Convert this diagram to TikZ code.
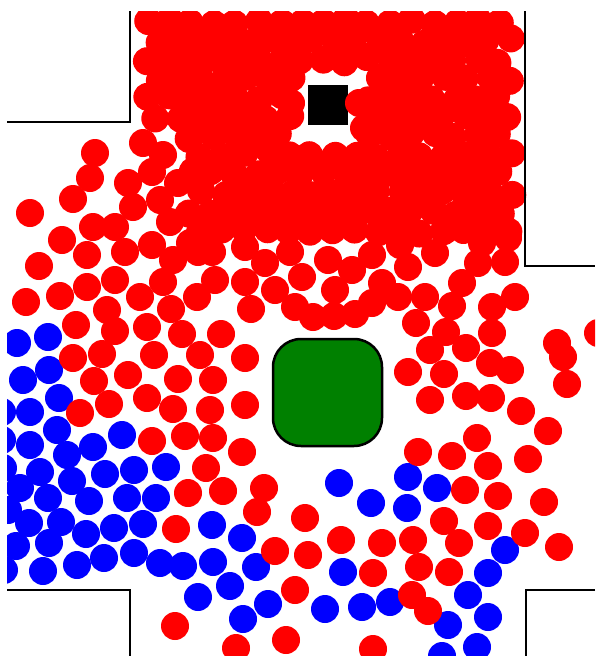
\documentclass[tikz,border=0pt]{standalone}
\definecolor{obstgreen}{RGB}{0,128,0}
\begin{document}
\begin{tikzpicture}[x=1pt, y=-1pt,
  redped/.style={fill=red}, blueped/.style={fill=blue},
  wall/.style={line width=2.5pt, black}]
  \useasboundingbox (0,0) rectangle (595,656);
  \fill[black] (308,85) rectangle (348,125);
  \begin{scope}
  \clip (7,11) rectangle (595,656);
  % packed crowd at the top
  \pgfmathsetseed{11}
  \foreach \r in {0,...,11}{
    \foreach \c in {0,...,16}{
      \pgfmathsetmacro{\cx}{147+22*\c+11*mod(\r,2)}
      \pgfmathsetmacro{\cy}{22+19*\r}
      \pgfmathtruncatemacro{\keep}{(\cx<513)&&((\cy<130)||(\cx>182))&&!((\cx>298)&&(\cx<358)&&(\cy>62)&&(\cy<145))}
      \ifnum\keep=1
        \fill[redped] ({\cx+3*rand},{\cy+3*rand}) circle (14);
      \fi
    }
  }
  % blue group
  \foreach \x/\y in {17/343, 48/337, 49/370, 23/380, 59/398, 30/412, 2/412, 57/430,
    2/440, 122/435, 30/445, 93/447, 67/455, 40/472, 3/468, 105/474, 134/470,
    166/467, 72/481, 20/488, 48/498, 89/501, 127/498, 156/498, 8/510, 29/523,
    61/522, 86/534, 114/528, 143/524, 16/546, 49/543, 212/525, 242/538, 77/565,
    104/558, 134/553, 160/563, 183/566, 213/562, 256/567, 43/571, 4/570, 230/586,
    198/597, 268/604, 243/619, 339/483, 371/503, 408/477, 437/488, 407/508,
    343/572, 390/602, 362/607, 325/609, 505/550, 488/573, 468/595, 488/617,
    448/625, 477/647, 442/656}
    \fill[blueped] (\x,\y) circle (14);
  % red stragglers
  \foreach \x/\y in {291/103, 359/103, 364/128,
    143/143, 163/155, 152/172, 178/183, 95/153, 90/178, 128/183, 73/199, 30/213,
    133/207, 160/200, 170/222, 93/227, 115/227, 62/240, 87/255, 125/252, 152/245,
    39/266, 173/260, 115/280, 87/287, 60/296, 26/302, 163/282, 140/297, 171/309,
    107/310, 76/325, 115/331, 147/327, 182/334, 197/297, 190/243,
    198/252, 215/280, 245/282, 251/309, 221/334, 212/252, 245/247, 265/263,
    275/290, 295/307, 302/277, 313/317, 334/316, 355/314, 335/290, 372/303,
    382/283, 352/270, 328/260, 290/252, 372/255, 400/245,
    398/297, 425/297, 416/323, 452/306, 446/332, 492/307, 515/297, 462/283,
    478/263, 505/262, 408/267, 435/253, 482/243, 508/238, 492/333, 466/348,
    430/350, 408/372, 444/374, 490/363, 510/370, 430/400, 466/396, 491/398,
    521/411, 548/431, 477/438, 418/452, 452/456, 488/466, 528/459, 557/343,
    563/357, 567/384, 598/333,
    465/490, 498/496, 544/502, 444/521, 488/526, 525/533, 413/540, 459/543,
    559/547, 305/518, 341/540, 382/543, 308/555, 373/573, 419/567, 449/572,
    295/590, 412/595, 428/611, 373/649, 286/640, 275/551, 257/512, 264/488,
    223/491, 188/493, 176/529, 175/626, 236/648,
    73/358, 102/354, 154/355, 200/355, 94/381, 128/375, 178/379, 80/413,
    109/404, 147/398, 173/409, 152/441, 185/436, 206/468, 245/358, 213/380,
    210/410, 245/405, 213/438, 242/452}
    \fill[redped] (\x,\y) circle (14);
  \end{scope}
  % obstacle and walls
  \draw[fill=obstgreen, line width=2.5pt, rounded corners=28pt] (273,339) rectangle (382,446);
  \draw[wall] (130,11) -- (130,122) -- (7,122);
  \draw[wall] (525,11) -- (525,266) -- (595,266);
  \draw[wall] (7,590) -- (130,590) -- (130,656);
  \draw[wall] (595,590) -- (526,590) -- (526,656);
\end{tikzpicture}
\end{document}
